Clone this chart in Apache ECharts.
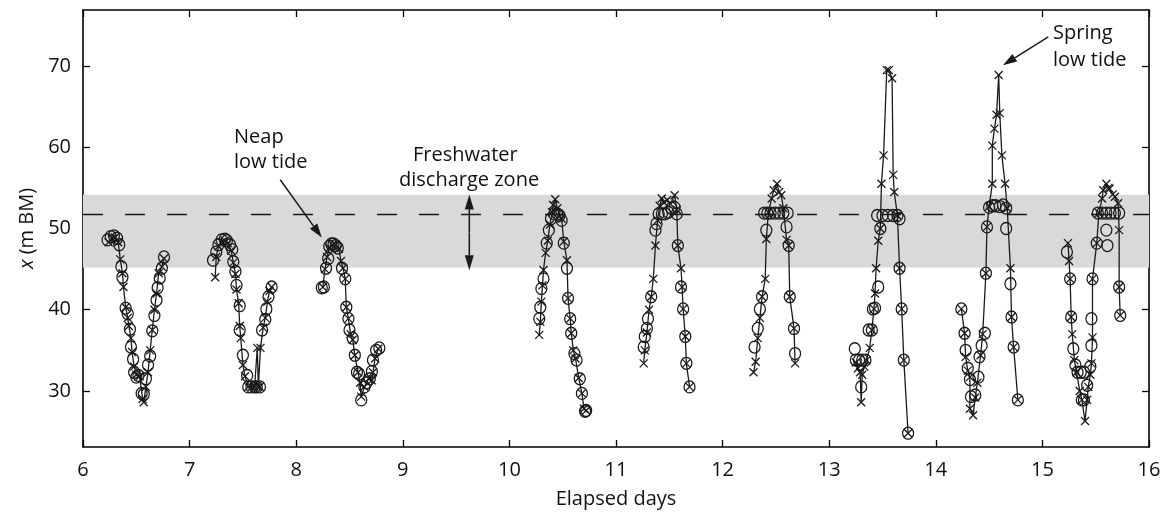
<!DOCTYPE html>
<html>
<head>
<meta charset="utf-8">
<script src="https://cdn.jsdelivr.net/npm/echarts@6/dist/echarts.min.js"></script>
<style>
  html, body { margin: 0; padding: 0; background: #fff; }
  #chart { width: 1169px; height: 514px; }
</style>
</head>
<body>
<div id="chart"></div>
<script>
// x axis / y axis ticks
const dayTicks = [6, 7, 8, 9, 10, 11, 12, 13, 14, 15, 16];
const xTicks = [30, 40, 50, 60, 70];

// freshwater discharge zone (m BM) and its mid line
const zoneLow = 45.2;
const zoneHigh = 54.15;
const zoneMid = 51.8;

// crosses, joined by the line, [elapsed day, x (m BM)] ; null = break between low tides
const crosses = [
  [6.24, 48.3], [6.27, 48.8], [6.30, 48.9], [6.33, 48.3], [6.35, 46.2], [6.37, 44.5], [6.38, 42.8],
  [6.40, 40.3], [6.42, 39.0], [6.43, 38.0], [6.45, 36.5], [6.46, 34.8], [6.48, 33.0], [6.50, 32.0],
  [6.53, 31.8], [6.56, 29.0], [6.57, 28.6], [6.59, 30.5], [6.61, 32.3], [6.63, 35.0], [6.65, 37.5],
  [6.67, 40.0], [6.69, 42.0], [6.71, 44.5], [6.74, 45.3], [6.76, 46.3],
  null,
  [7.24, 44.0], [7.25, 46.5], [7.27, 47.8], [7.30, 48.3], [7.33, 48.5], [7.36, 48.2], [7.39, 47.3],
  [7.41, 45.8], [7.43, 44.4], [7.44, 42.5], [7.46, 40.8], [7.47, 38.0], [7.48, 36.5], [7.50, 33.2],
  [7.52, 31.8], [7.55, 30.5], [7.58, 30.5], [7.61, 30.5], [7.635, 35.3], [7.645, 30.5], [7.66, 30.5],
  [7.665, 35.3], [7.69, 37.8], [7.71, 39.0], [7.73, 41.0], [7.75, 42.3], [7.77, 42.8],
  null,
  [8.25, 42.8], [8.27, 45.0], [8.29, 46.5], [8.31, 47.6], [8.34, 48.0], [8.37, 48.0], [8.40, 47.5],
  [8.42, 46.0], [8.44, 45.1], [8.46, 43.8], [8.47, 40.3], [8.49, 38.9], [8.51, 37.0], [8.53, 36.3],
  [8.55, 34.4], [8.58, 32.3], [8.60, 31.0], [8.61, 29.3], [8.64, 30.5], [8.68, 31.5], [8.71, 31.3],
  [8.72, 32.3], [8.74, 34.0], [8.77, 35.2],
  null,
  [10.28, 36.9], [10.29, 38.5], [10.30, 41.0], [10.31, 43.0], [10.32, 44.9], [10.34, 47.0], [10.36, 48.5],
  [10.38, 50.5], [10.40, 52.0], [10.41, 52.9], [10.43, 53.6], [10.45, 52.5], [10.47, 51.5], [10.49, 51.2],
  [10.51, 48.4], [10.54, 46.1], [10.55, 41.4], [10.57, 38.9], [10.58, 37.1], [10.60, 35.0], [10.62, 34.0],
  [10.65, 31.6], [10.68, 29.7], [10.70, 27.8], [10.72, 27.6],
  null,
  [11.26, 33.4], [11.27, 35.0], [11.29, 37.2], [11.31, 40.0], [11.33, 41.6], [11.35, 43.8], [11.37, 47.9],
  [11.39, 51.0], [11.41, 52.8], [11.43, 53.7], [11.45, 53.2], [11.48, 53.5], [11.51, 53.0], [11.55, 54.1],
  [11.57, 52.3], [11.58, 47.9], [11.61, 45.1], [11.62, 42.8], [11.63, 40.1], [11.65, 36.7], [11.66, 33.4],
  [11.69, 30.5],
  null,
  [12.29, 32.3], [12.31, 33.6], [12.33, 36.5], [12.35, 39.0], [12.37, 41.6], [12.40, 43.8], [12.41, 48.7],
  [12.43, 52.0], [12.46, 53.7], [12.48, 54.7], [12.51, 55.5], [12.53, 54.5], [12.55, 54.1], [12.57, 52.5],
  [12.60, 48.6], [12.62, 47.9], [12.63, 41.6], [12.67, 37.7], [12.68, 33.4],
  null,
  [13.25, 33.5], [13.27, 32.8], [13.29, 32.3], [13.30, 28.6], [13.31, 32.0], [13.33, 33.0], [13.35, 33.8],
  [13.38, 35.3], [13.40, 37.5], [13.42, 40.1], [13.43, 42.0], [13.44, 45.1], [13.46, 48.5], [13.48, 50.0],
  [13.49, 55.5], [13.51, 59.0], [13.54, 69.5], [13.56, 69.5], [13.59, 68.5], [13.60, 56.6], [13.61, 54.5],
  [13.64, 51.6], [13.66, 45.1], [13.68, 40.1], [13.70, 33.8], [13.74, 24.8],
  null,
  [14.24, 40.1], [14.27, 37.1], [14.28, 34.2], [14.30, 32.5], [14.32, 31.7], [14.32, 27.8], [14.35, 27.0],
  [14.37, 29.2], [14.39, 31.0], [14.42, 34.4], [14.44, 37.0], [14.47, 44.5], [14.48, 50.2], [14.50, 52.7],
  [14.53, 55.5], [14.53, 60.2], [14.55, 62.3], [14.57, 64.0], [14.59, 68.9], [14.60, 64.2], [14.62, 59.0],
  [14.65, 55.5], [14.67, 52.5], [14.70, 45.1], [14.71, 39.1], [14.73, 35.4], [14.77, 28.9],
  null,
  [15.24, 48.2], [15.25, 46.0], [15.26, 43.8], [15.27, 39.1], [15.28, 37.0], [15.30, 33.8], [15.32, 32.3],
  [15.35, 30.0], [15.37, 28.9], [15.40, 26.3], [15.42, 28.9], [15.43, 30.5], [15.45, 32.0], [15.46, 33.4],
  [15.47, 36.6], [15.47, 43.8], [15.51, 48.2], [15.53, 51.9], [15.56, 53.7], [15.57, 54.7], [15.60, 55.5],
  [15.62, 55.0], [15.63, 54.9], [15.66, 54.2], [15.68, 53.9], [15.71, 53.1], [15.72, 49.8], [15.72, 42.8],
  [15.73, 39.3]
];

// open circles, [elapsed day, x (m BM)]
const circles = [
  [6.23, 48.6], [6.26, 49.0], [6.29, 49.1], [6.32, 48.8], [6.34, 48.0], [6.36, 45.3], [6.37, 44.0],
  [6.40, 40.2], [6.42, 39.5], [6.44, 37.6], [6.45, 35.4], [6.47, 33.9], [6.48, 32.3], [6.50, 31.7],
  [6.52, 31.9], [6.55, 29.7], [6.57, 29.6], [6.59, 31.5], [6.61, 33.2], [6.63, 34.3], [6.65, 37.4],
  [6.67, 39.3], [6.69, 41.2], [6.70, 42.7], [6.72, 43.9], [6.74, 45.1], [6.76, 46.5],
  [7.22, 46.1], [7.25, 47.1], [7.27, 48.0], [7.30, 48.6], [7.33, 48.7], [7.35, 48.5], [7.38, 48.0],
  [7.40, 47.4], [7.41, 45.9], [7.43, 44.7], [7.44, 43.0], [7.47, 40.5], [7.47, 37.5], [7.50, 34.4],
  [7.54, 31.9], [7.55, 30.5], [7.58, 30.5], [7.61, 30.5], [7.63, 30.5], [7.66, 30.5], [7.68, 37.5],
  [7.71, 38.8], [7.72, 40.1], [7.74, 41.6], [7.77, 42.8],
  [8.24, 42.7], [8.26, 42.8], [8.28, 45.1], [8.30, 46.3], [8.31, 47.8], [8.33, 48.1], [8.35, 48.1],
  [8.37, 47.9], [8.39, 47.6], [8.43, 45.1], [8.46, 43.8], [8.47, 40.3], [8.49, 38.9], [8.50, 37.5],
  [8.53, 36.5], [8.55, 34.4], [8.57, 32.3], [8.59, 32.1], [8.61, 28.9], [8.64, 30.5], [8.66, 31.0],
  [8.69, 31.5], [8.71, 32.4], [8.72, 33.8], [8.75, 35.0], [8.78, 35.3],
  [10.28, 38.9], [10.29, 40.3], [10.30, 42.6], [10.32, 43.8], [10.35, 48.2], [10.37, 49.8], [10.39, 51.2],
  [10.42, 51.8], [10.45, 51.8], [10.47, 51.6], [10.49, 51.0], [10.51, 48.2], [10.54, 45.1], [10.55, 41.4],
  [10.57, 38.9], [10.58, 37.1], [10.61, 34.6], [10.63, 33.8], [10.66, 31.5], [10.68, 29.7], [10.71, 27.5],
  [10.72, 27.6],
  [11.26, 35.4], [11.27, 36.7], [11.29, 37.7], [11.30, 38.9], [11.33, 41.6], [11.37, 49.8], [11.38, 50.6],
  [11.40, 51.8], [11.43, 51.8], [11.46, 51.8], [11.49, 52.0], [11.52, 52.5], [11.55, 52.6], [11.57, 51.8],
  [11.58, 47.9], [11.61, 42.8], [11.63, 40.1], [11.65, 36.7], [11.66, 33.4], [11.69, 30.5],
  [12.30, 35.4], [12.33, 37.7], [12.35, 40.1], [12.37, 41.6], [12.41, 49.8], [12.39, 51.9], [12.42, 51.9],
  [12.45, 51.9], [12.49, 51.9], [12.53, 51.9], [12.57, 51.9], [12.61, 51.9], [12.60, 50.2], [12.62, 47.9],
  [12.63, 41.6], [12.67, 37.7], [12.68, 34.6],
  [13.24, 35.2], [13.25, 33.8], [13.28, 33.8], [13.31, 33.8], [13.34, 33.8], [13.30, 30.5], [13.37, 37.5],
  [13.40, 37.5], [13.41, 40.1], [13.43, 40.2], [13.46, 42.8], [13.48, 50.0], [13.45, 51.6], [13.50, 51.6],
  [13.55, 51.6], [13.60, 51.6], [13.64, 51.6], [13.66, 51.2], [13.66, 45.1], [13.68, 40.1], [13.70, 33.8],
  [13.74, 24.8],
  [14.24, 40.1], [14.27, 37.1], [14.28, 35.0], [14.30, 32.8], [14.32, 31.4], [14.33, 29.3], [14.37, 29.5],
  [14.40, 31.7], [14.41, 34.2], [14.43, 35.6], [14.46, 37.1], [14.47, 44.5], [14.48, 50.2], [14.50, 52.6],
  [14.53, 52.8], [14.56, 52.8], [14.60, 52.7], [14.63, 52.9], [14.66, 52.5], [14.66, 50.0], [14.70, 43.2],
  [14.71, 39.1], [14.73, 35.4], [14.77, 28.9],
  [15.23, 47.1], [15.26, 43.8], [15.27, 39.1], [15.29, 35.2], [15.31, 33.2], [15.33, 32.3], [15.36, 32.3],
  [15.39, 32.3], [15.42, 30.7], [15.37, 28.9], [15.39, 28.9], [15.45, 33.0], [15.46, 35.6], [15.46, 38.9],
  [15.47, 43.8], [15.51, 48.2], [15.52, 51.9], [15.56, 51.9], [15.60, 51.9], [15.64, 51.9], [15.68, 51.9],
  [15.72, 51.9], [15.60, 49.8], [15.61, 47.9], [15.72, 42.8], [15.73, 39.3]
];

const FONT = '"Open Sans", "Noto Sans", sans-serif';
const INK = '#1a1a1a';

const chart = echarts.init(document.getElementById('chart'), null, { renderer: 'canvas' });

const frameLine = { show: true, onZero: false, lineStyle: { color: '#000', width: 1.6 } };
const tickStyle = { lineStyle: { color: '#000', width: 1.3 } };

const option = {
  animation: false,
  backgroundColor: '#fff',
  grid: { left: 83, right: 20, top: 10, bottom: 67 },
  xAxis: [
    {
      type: 'value', min: 6, max: 16, interval: 1, position: 'bottom',
      axisLine: frameLine,
      axisTick: Object.assign({ inside: true, length: 7, customValues: dayTicks }, tickStyle),
      axisLabel: { fontSize: 20, fontFamily: FONT, color: '#111', margin: 13, customValues: dayTicks },
      splitLine: { show: false },
      name: 'Elapsed days', nameLocation: 'middle', nameGap: 42,
      nameTextStyle: { fontSize: 20, fontFamily: FONT, color: '#111' }
    },
    {
      type: 'value', min: 6, max: 16, interval: 1, position: 'top',
      axisLine: frameLine,
      axisTick: Object.assign({ inside: true, length: 7, customValues: dayTicks }, tickStyle),
      axisLabel: { show: false },
      splitLine: { show: false }
    }
  ],
  yAxis: [
    {
      type: 'value', min: 23.1, max: 76.9, position: 'left',
      axisLine: frameLine,
      axisTick: Object.assign({ inside: true, length: 7, customValues: xTicks }, tickStyle),
      axisLabel: { fontSize: 20, fontFamily: FONT, color: '#111', margin: 12, customValues: xTicks },
      splitLine: { show: false },
      name: '{i|x} (m BM)', nameLocation: 'middle', nameGap: 46, nameRotate: 90,
      nameTextStyle: {
        fontSize: 20, fontFamily: FONT, color: '#111',
        rich: { i: { fontSize: 20, fontFamily: FONT, fontStyle: 'italic', color: '#111' } }
      }
    },
    {
      type: 'value', min: 23.1, max: 76.9, position: 'right',
      axisLine: frameLine,
      axisTick: Object.assign({ inside: true, length: 7, customValues: xTicks }, tickStyle),
      axisLabel: { show: false },
      splitLine: { show: false }
    }
  ],
  series: [
    {
      // grey freshwater zone and dashed mid line
      type: 'line',
      data: [],
      z: 1,
      silent: true,
      markArea: {
        silent: true,
        itemStyle: { color: '#d9d9d9' },
        data: [[{ coord: [6, zoneLow] }, { coord: [16, zoneHigh] }]]
      },
      markLine: {
        silent: true,
        symbol: 'none',
        label: { show: false },
        lineStyle: { color: INK, width: 1.3, type: [20, 22] },
        data: [[{ coord: [6, zoneMid] }, { coord: [16, zoneMid] }]]
      }
    },
    {
      type: 'line',
      z: 3,
      data: crosses.map(p => (p ? p : ['-', '-'])),
      connectNulls: false,
      showAllSymbol: true,
      symbol: 'path://M0,0L10,10M10,0L0,10',
      symbolSize: 8,
      itemStyle: { color: 'rgba(0,0,0,0)', borderColor: INK, borderWidth: 1.3 },
      lineStyle: { color: INK, width: 1.3 }
    },
    {
      type: 'scatter',
      z: 4,
      data: circles,
      symbol: 'circle',
      symbolSize: [11, 12],
      itemStyle: { color: 'rgba(0,0,0,0)', borderColor: INK, borderWidth: 1.3, opacity: 1 }
    }
  ]
};

chart.setOption(option);

// ---- annotations (arrows anchored on data coordinates) ----
function px(p) {
  return chart.convertToPixel({ xAxisIndex: 0, yAxisIndex: 0 }, p);
}

function arrow(from, tip, len, half) {
  const a = px(from), b = px(tip);
  const dx = b[0] - a[0], dy = b[1] - a[1];
  const d = Math.sqrt(dx * dx + dy * dy);
  const ux = dx / d, uy = dy / d;
  const bx = b[0] - ux * len, by = b[1] - uy * len;
  return [
    { type: 'line', z: 10, shape: { x1: a[0], y1: a[1], x2: bx, y2: by }, style: { stroke: INK, lineWidth: 1.5 } },
    {
      type: 'polygon', z: 10,
      shape: { points: [[b[0], b[1]], [bx - uy * half, by + ux * half], [bx + uy * half, by - ux * half]] },
      style: { fill: INK }
    }
  ];
}

function label(text, x, y, align) {
  return {
    type: 'text', z: 10, x: x, y: y,
    style: { text: text, fontSize: 20, fontFamily: FONT, fill: '#111', verticalAlign: 'middle', align: align || 'left' }
  };
}

const graphics = [].concat(
  arrow([7.85, 56.0], [8.24, 48.9], 14, 4.5),
  arrow([9.624, 49.5], [9.624, 54.2], 15, 4.5),
  arrow([9.624, 49.5], [9.624, 44.85], 15, 4.5),
  arrow([15.055, 73.6], [14.63, 70.1], 14, 4.5),
  [
    label('Neap', 234, 137),
    label('low tide', 234, 162),
    label('Freshwater', 413, 155),
    label('discharge zone', 399, 180),
    label('Spring', 1053, 33),
    label('low tide', 1053, 60)
  ]
);

chart.setOption({ graphic: graphics });
</script>
</body>
</html>
